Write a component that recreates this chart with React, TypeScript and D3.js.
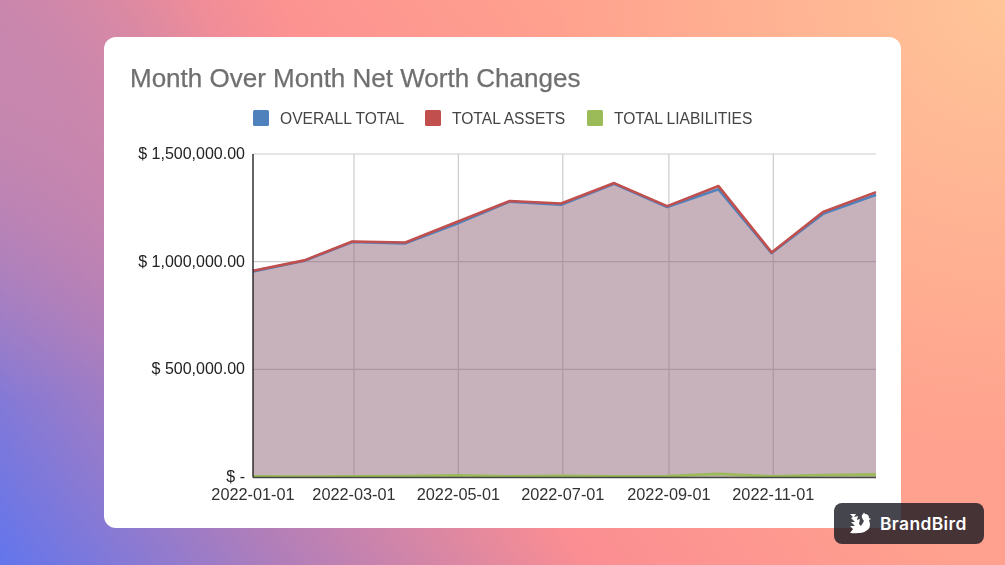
import React from "react";
import * as d3 from "d3";

const dates = ["2022-01-01","2022-01-31","2022-02-28","2022-03-31","2022-04-30","2022-05-31","2022-06-30","2022-07-31","2022-08-31","2022-09-30","2022-10-31","2022-11-30","2022-12-31"];
const totalAssets = [958000,1006000,1094000,1089000,1184000,1282000,1270000,1365000,1258000,1351000,1043000,1231000,1323000];
const totalLiabilities = [3000,2000,3000,4000,8000,3000,6000,3000,4000,15000,3000,9000,12000];
const overallTotal = [955000,1004000,1091000,1085000,1176000,1279000,1264000,1362000,1254000,1336000,1040000,1222000,1311000];
const yTicks = [0,500000,1000000,1500000];
const yLabels = ["$ -","$ 500,000.00","$ 1,000,000.00","$ 1,500,000.00"];
const xTicks = ["2022-01-01","2022-03-01","2022-05-01","2022-07-01","2022-09-01","2022-11-01"];
const legend = ["OVERALL TOTAL","TOTAL ASSETS","TOTAL LIABILITIES"];
const colors = ["#4f81bd","#c0504d","#9bbb59"];
const legendX = [253,425,587];

const parse = d3.utcParse("%Y-%m-%d");
const font = "'Liberation Sans', Arial, sans-serif";

export default function App() {
  const x = d3.scaleUtc().domain([parse(dates[0])!, parse(dates[12])!]).range([253,876]);
  const y = d3.scaleLinear().domain([0,1500000]).range([477,154]);
  const ds = dates.map(m => parse(m)!);
  const series = [overallTotal,totalAssets,totalLiabilities];
  const area = d3.area<number>().x((_,i)=>x(ds[i])).y0(y(0)).y1(d=>y(d));
  const line = d3.line<number>().x((_,i)=>x(ds[i])).y(d=>y(d));
  return (
    <svg width={1005} height={565} style={{position:"fixed",left:0,top:0,display:"block"}}>
      <defs>
        <linearGradient id="base" gradientUnits="userSpaceOnUse" x1="0" y1="575" x2="640" y2="120">
          <stop offset="0" stopColor="#6075ee"/>
          <stop offset="0.3" stopColor="#b07eba"/>
          <stop offset="0.62" stopColor="#fb8e92"/>
          <stop offset="1" stopColor="#ffa18e"/>
        </linearGradient>
        <radialGradient id="tl" gradientUnits="userSpaceOnUse" cx="0" cy="100" r="300">
          <stop offset="0" stopColor="#c888ae" stopOpacity="0.9"/>
          <stop offset="1" stopColor="#c888ae" stopOpacity="0"/>
        </radialGradient>
        <radialGradient id="tr" gradientUnits="userSpaceOnUse" cx="1005" cy="0" r="450">
          <stop offset="0" stopColor="#ffc598" stopOpacity="1"/>
          <stop offset="1" stopColor="#ffc598" stopOpacity="0"/>
        </radialGradient>
        <filter id="soft" x="-5%" y="-5%" width="110%" height="110%"><feGaussianBlur stdDeviation="0.45"/></filter>
      </defs>
      <rect width={1005} height={565} fill="url(#base)"/>
      <rect width={1005} height={565} fill="url(#tl)"/>
      <rect width={1005} height={565} fill="url(#tr)"/>
      <rect x={104} y={37} width={797} height={491} rx={12} fill="#fff"/>
      <g filter="url(#soft)" fontFamily={font}>
        <text x={130} y={87} fontSize={26} fill="#6f6f6f" stroke="#6f6f6f" strokeWidth={0.25}>Month Over Month Net Worth Changes</text>
        {legend.map((t,i)=>(
          <g key={t}>
            <rect x={legendX[i]} y={110} width={16} height={16} rx={1.5} fill={colors[i]}/>
            <text x={legendX[i]+27} y={123.5} fontSize={15.6} fill="#444">{t}</text>
          </g>
        ))}
        {yTicks.map((t,i)=>(
          <g key={t}>
            {t>0 && <line x1={253} x2={876} y1={y(t)} y2={y(t)} stroke="#cccccc" strokeWidth={1.2}/>}
            <text x={245} y={y(t)+5} textAnchor="end" fontSize={16} fill="#222">{yLabels[i]}</text>
          </g>
        ))}
        {xTicks.map((t,i)=>(
          <g key={t}>
            {i>0 && <line x1={x(parse(t)!)} x2={x(parse(t)!)} y1={154} y2={477} stroke="#cccccc" strokeWidth={1.2}/>}
            <text x={x(parse(t)!)} y={500} textAnchor="middle" fontSize={16.3} fill="#333">{t}</text>
          </g>
        ))}
        {series.map((s,i)=>(
          <path key={i} d={area(s)!} fill={colors[i]} fillOpacity={0.3}/>
        ))}
        {series.map((s,i)=>(
          <path key={i} d={line(s)!} fill="none" stroke={colors[i]} strokeWidth={2.6} strokeLinejoin="round"/>
        ))}
        <line x1={253} x2={253} y1={154} y2={477.5} stroke="#222" strokeWidth={1.4}/>
        <line x1={253} x2={876} y1={477.5} y2={477.5} stroke="#444" strokeWidth={1.4}/>
      </g>
      <rect x={834} y={503} width={150} height={41} rx={8} fill="#161820" fillOpacity={0.8}/>
      <g fill="#fff">
        <path d="M850 514 L856 514 L854 517 L858 516 L857 520 L860 519 L859 524 L861 526 L864 521 Q860 516 863 514 L864 512.5 L865 514 Q869 514 869 518 L871 519 L869 520 Q872 528 866 531 Q862 534 850 533 L853 529 L850 526 L855 526 L851 522 L855 522 L851 518 L853 517 Z"/>
        <text x={880} y={530} fontFamily="Inter, 'Noto Sans', sans-serif" fontWeight={600} fontSize={17.4} letterSpacing={0.4}>BrandBird</text>
      </g>
    </svg>
  );
}
